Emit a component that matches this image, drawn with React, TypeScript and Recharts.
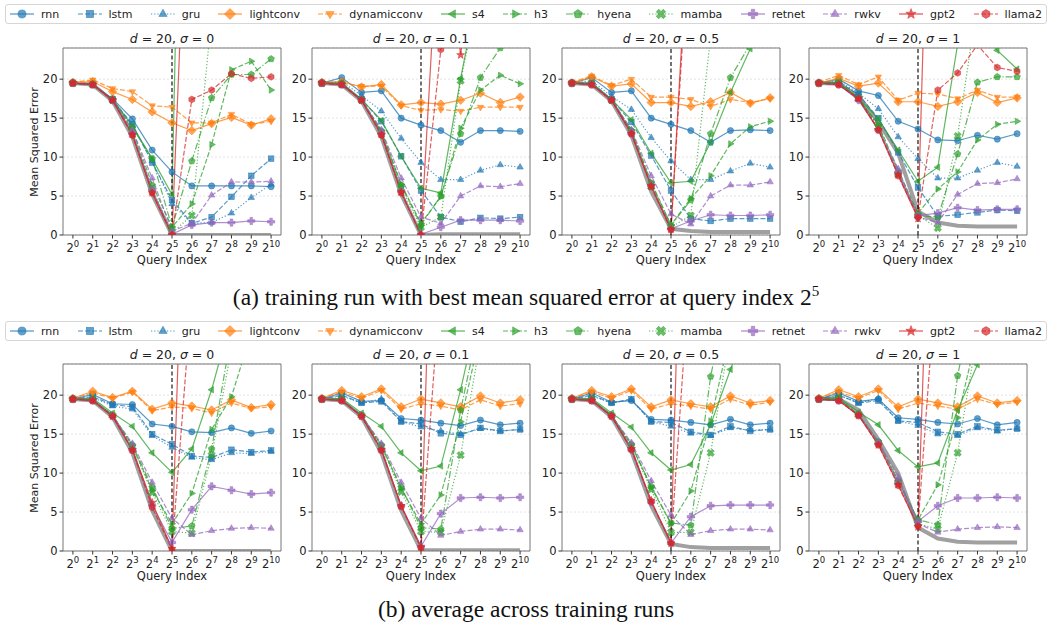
import React from 'react'
import { LineChart, Line, XAxis, YAxis, CartesianGrid, ReferenceLine, ReferenceArea } from 'recharts'

// query index exponents (2^0 .. 2^10)
const queryExponents = [0, 1, 2, 3, 4, 5, 6, 7, 8, 9, 10]
const sigmaLabels = ['0', '0.1', '0.5', '1']
const seriesNames = ['rnn', 'lstm', 'gru', 'lightconv', 'dynamicconv', 's4', 'h3', 'hyena', 'mamba', 'retnet', 'rwkv', 'gpt2', 'llama2']

// (a) best training run
const bestSigma0: Record<string, number[]> = {
  rnn: [19.5, 19.3, 17.5, 14.9, 10.9, 8.1, 6.3, 6.3, 6.3, 6.3, 6.2],
  lstm: [19.5, 19.3, 17.4, 14.2, 9.3, 4.5, 1.5, 2.3, 4.9, 7.6, 9.8],
  gru: [19.5, 19.3, 17.4, 14.0, 9.5, 4.0, 1.5, 1.6, 2.8, 4.8, 6.5],
  lightconv: [19.6, 19.7, 18.4, 17.4, 15.8, 14.4, 13.4, 14.3, 15.1, 14.1, 14.9],
  dynamicconv: [19.6, 19.9, 18.8, 18.4, 16.6, 16.4, 14.4, 14.4, 15.5, 14.2, 14.6],
  s4: [19.5, 19.3, 17.4, 14.0, 9.8, 5.2, 120, 110, 100, 100, 100],
  h3: [19.5, 19.3, 17.3, 13.5, 6.5, 1.0, 4.0, 11.6, 21.2, 22.3, 18.6],
  hyena: [19.5, 19.3, 17.4, 13.8, 9.8, 1.0, 9.5, 17.6, 20.6, 20.6, 22.6],
  mamba: [19.5, 19.3, 17.3, 13.2, 6.0, 0.3, 2.5, 28, 40, 40, 40],
  retnet: [19.5, 19.3, 17.3, 13.0, 5.8, 0.1, 1.3, 1.6, 1.6, 1.8, 1.7],
  rwkv: [19.5, 19.3, 17.4, 13.5, 7.3, 0.5, 1.5, 5.1, 6.8, 6.8, 6.9],
  gpt2: [19.5, 19.3, 17.3, 12.9, 5.4, 0.0, 62, 60, 60, 60, 60],
  llama2: [19.5, 19.3, 17.3, 12.8, 5.4, 0.0, 17.4, 18.6, 20.7, 20.1, 20.3],
}

const bestSigma01: Record<string, number[]> = {
  rnn: [19.5, 20.2, 18.3, 18.5, 15.0, 14.1, 13.4, 11.9, 13.4, 13.4, 13.3],
  lstm: [19.5, 19.3, 17.4, 14.6, 10.1, 5.7, 2.3, 1.7, 2.2, 2.1, 2.3],
  gru: [19.5, 19.7, 17.9, 15.9, 12.4, 9.3, 7.1, 7.1, 8.3, 9.0, 8.7],
  lightconv: [19.6, 19.7, 19.0, 19.3, 16.7, 17.0, 16.8, 17.3, 18.2, 17.0, 17.7],
  dynamicconv: [19.6, 19.5, 19.1, 19.1, 16.6, 16.0, 16.1, 15.9, 16.4, 16.4, 16.4],
  s4: [19.5, 19.5, 17.4, 14.7, 10.1, 6.0, 5.4, 20.1, 33, 40, 40],
  h3: [19.5, 19.4, 17.3, 13.4, 6.5, 1.5, 4.9, 13.7, 18.6, 20.5, 19.4],
  hyena: [19.5, 19.4, 17.3, 13.3, 6.4, 1.3, 5.0, 13.0, 20.2, 24.0, 28],
  mamba: [19.5, 19.4, 17.3, 13.2, 6.0, 1.0, 2.3, 19.8, 32, 40, 40],
  retnet: [19.5, 19.3, 17.3, 13.0, 5.6, 0.1, 1.0, 1.9, 1.9, 1.9, 1.8],
  rwkv: [19.5, 19.3, 17.4, 13.5, 7.3, 2.3, 1.5, 5.0, 6.3, 6.2, 6.6],
  gpt2: [19.5, 19.3, 17.3, 12.9, 5.5, 0.0, 45, 23.1, 45, 45, 45],
  llama2: [19.5, 19.3, 17.3, 12.8, 5.4, 0.0, 23.8, 40, 40, 40, 40],
}

const bestSigma05: Record<string, number[]> = {
  rnn: [19.5, 20.2, 18.3, 18.5, 15.0, 14.2, 13.4, 11.9, 13.4, 13.5, 13.4],
  lstm: [19.5, 19.5, 17.4, 14.5, 10.2, 5.7, 2.1, 1.8, 2.1, 2.1, 2.1],
  gru: [19.5, 19.8, 17.8, 16.1, 12.5, 9.5, 7.1, 7.1, 8.2, 9.2, 8.7],
  lightconv: [19.5, 20.3, 19.1, 19.4, 17.0, 17.0, 16.5, 17.1, 18.3, 16.9, 17.6],
  dynamicconv: [19.6, 20.4, 19.2, 20.0, 17.7, 17.7, 17.4, 16.5, 17.4, 17.0, 17.5],
  s4: [19.5, 19.5, 17.4, 14.8, 10.5, 6.7, 6.9, 11.9, 18.3, 23.9, 28],
  h3: [19.5, 19.4, 17.3, 13.5, 6.8, 1.3, 4.7, 7.6, 11.7, 13.9, 14.6],
  hyena: [19.5, 19.4, 17.3, 13.4, 6.6, 1.2, 4.5, 13.0, 20.2, 24.5, 30],
  mamba: [19.5, 19.4, 17.3, 13.2, 6.2, 1.0, 2.5, 25.5, 40, 45, 50],
  retnet: [19.5, 19.3, 17.3, 13.0, 6.4, 0.8, 1.8, 2.6, 2.5, 2.5, 2.6],
  rwkv: [19.5, 19.3, 17.4, 13.5, 7.6, 2.7, 1.4, 5.0, 6.4, 6.4, 6.8],
  gpt2: [19.5, 19.3, 17.3, 13.0, 6.3, 0.7, 45, 45, 45, 45, 45],
  llama2: [19.5, 19.3, 17.3, 13.0, 6.2, 0.7, 42, 42, 42, 42, 42],
}

const bestSigma1: Record<string, number[]> = {
  rnn: [19.5, 20.0, 18.5, 17.9, 14.6, 13.6, 12.2, 12.1, 12.8, 12.3, 13.0],
  lstm: [19.5, 19.6, 18.0, 15.0, 10.6, 6.1, 2.4, 2.6, 2.9, 3.2, 3.1],
  gru: [19.5, 19.8, 18.2, 16.2, 12.6, 9.8, 7.3, 7.3, 8.3, 9.3, 8.8],
  lightconv: [19.5, 20.1, 19.1, 19.5, 17.1, 17.1, 16.5, 17.1, 18.3, 17.0, 17.6],
  dynamicconv: [19.6, 20.5, 19.3, 20.3, 17.3, 18.2, 18.1, 17.5, 18.6, 17.7, 17.7],
  s4: [19.5, 19.6, 17.6, 14.9, 10.9, 6.9, 8.7, 24.5, 27, 23.7, 21.3],
  h3: [19.5, 19.5, 17.5, 14.2, 8.3, 2.8, 5.9, 8.1, 12.2, 14.2, 14.6],
  hyena: [19.5, 19.5, 17.5, 14.0, 8.0, 2.5, 2.3, 10.4, 19.6, 20.3, 20.3],
  mamba: [19.5, 19.5, 17.5, 13.8, 7.8, 2.5, 0.9, 12.7, 30, 35, 35],
  retnet: [19.5, 19.3, 17.3, 13.5, 8.0, 2.5, 2.8, 3.5, 3.2, 3.3, 3.3],
  rwkv: [19.5, 19.3, 17.4, 13.6, 8.5, 2.3, 1.6, 5.2, 6.6, 6.7, 7.2],
  gpt2: [19.5, 19.3, 17.5, 13.5, 7.7, 2.1, 90, 90, 90, 90, 90],
  llama2: [19.5, 19.3, 17.5, 13.5, 7.6, 2.3, 18.6, 20.8, 24.4, 21.5, 21.0],
}

// (b) average across training runs
const avgSigma0: Record<string, number[]> = {
  rnn: [19.5, 20.1, 18.9, 18.8, 16.3, 16.0, 15.3, 15.2, 15.8, 15.1, 15.4],
  lstm: [19.5, 19.8, 18.8, 18.5, 15.0, 13.7, 12.2, 12.0, 13.0, 12.7, 12.9],
  gru: [19.5, 19.7, 18.6, 18.2, 14.8, 13.3, 12.0, 11.7, 12.6, 12.5, 12.8],
  lightconv: [19.6, 20.5, 19.7, 20.5, 18.2, 19.0, 18.6, 18.1, 19.4, 18.4, 18.8],
  dynamicconv: [19.6, 20.3, 19.6, 20.4, 18.0, 18.5, 18.3, 17.7, 19.0, 18.3, 18.5],
  s4: [19.5, 19.6, 17.7, 16.0, 12.6, 10.1, 13.1, 20.7, 30, 35, 35],
  h3: [19.5, 19.4, 17.4, 13.5, 7.8, 3.5, 7.4, 15.6, 19.8, 28, 30],
  hyena: [19.5, 19.4, 17.4, 13.6, 8.2, 2.9, 3.2, 13.1, 28, 32, 32],
  mamba: [19.5, 19.4, 17.4, 13.4, 7.5, 2.5, 2.3, 12.3, 26, 30, 30],
  retnet: [19.5, 19.3, 17.3, 13.0, 5.9, 1.1, 5.3, 8.3, 7.8, 7.3, 7.5],
  rwkv: [19.5, 19.3, 17.4, 13.8, 8.8, 4.2, 2.1, 2.6, 2.9, 3.0, 2.9],
  gpt2: [19.5, 19.3, 17.3, 13.0, 6.2, 0.3, 80, 80, 80, 80, 80],
  llama2: [19.5, 19.3, 17.3, 12.9, 5.6, 0.2, 33, 40, 40, 40, 40],
}

const avgSigma01: Record<string, number[]> = {
  rnn: [19.5, 20.3, 19.2, 19.3, 17.0, 16.8, 16.4, 16.1, 16.8, 16.2, 16.4],
  lstm: [19.5, 20.0, 19.0, 19.2, 16.6, 16.3, 15.1, 14.9, 15.8, 15.4, 15.6],
  gru: [19.5, 19.9, 19.0, 19.5, 16.6, 15.9, 15.4, 15.0, 15.7, 15.4, 15.6],
  lightconv: [19.6, 20.6, 19.8, 20.8, 18.5, 19.5, 19.0, 18.5, 19.9, 19.0, 19.4],
  dynamicconv: [19.6, 20.4, 19.6, 20.6, 18.2, 18.9, 18.6, 18.1, 19.4, 18.6, 18.9],
  s4: [19.5, 19.6, 17.7, 16.0, 12.6, 10.3, 10.9, 20.7, 32, 35, 35],
  h3: [19.5, 19.4, 17.4, 13.5, 8.0, 3.5, 7.2, 16.6, 28, 32, 32],
  hyena: [19.5, 19.4, 17.4, 13.6, 8.2, 3.0, 2.8, 18.1, 30, 32, 32],
  mamba: [19.5, 19.4, 17.4, 13.4, 7.6, 2.5, 2.4, 12.3, 27, 30, 30],
  retnet: [19.5, 19.3, 17.3, 13.0, 5.8, 0.6, 4.8, 6.8, 6.9, 6.8, 6.9],
  rwkv: [19.5, 19.3, 17.4, 13.8, 8.8, 4.2, 2.0, 2.5, 2.8, 2.8, 2.7],
  gpt2: [19.5, 19.3, 17.3, 13.0, 5.8, 0.5, 85, 85, 85, 85, 85],
  llama2: [19.5, 19.3, 17.3, 12.9, 5.7, 0.4, 35, 40, 40, 40, 40],
}

const avgSigma05: Record<string, number[]> = {
  rnn: [19.5, 20.3, 19.1, 19.3, 16.9, 16.8, 16.5, 16.2, 16.9, 16.2, 16.4],
  lstm: [19.5, 20.0, 19.0, 19.5, 16.6, 16.5, 15.3, 14.9, 16.0, 15.4, 15.6],
  gru: [19.5, 19.9, 19.0, 19.4, 16.6, 16.0, 15.1, 14.8, 15.8, 15.5, 15.6],
  lightconv: [19.6, 20.6, 19.8, 20.8, 18.5, 19.4, 18.9, 18.5, 19.9, 19.0, 19.3],
  dynamicconv: [19.6, 20.4, 19.6, 20.6, 18.2, 18.9, 18.6, 18.2, 19.5, 18.7, 19.1],
  s4: [19.5, 19.6, 17.7, 15.9, 12.6, 10.4, 11.1, 16.2, 23.3, 30, 32],
  h3: [19.5, 19.4, 17.4, 13.6, 8.2, 3.5, 7.7, 16.7, 28, 30, 30],
  hyena: [19.5, 19.4, 17.4, 13.7, 8.3, 3.6, 3.3, 22.4, 35, 35, 35],
  mamba: [19.5, 19.4, 17.4, 13.5, 7.9, 2.4, 2.4, 12.6, 28, 30, 30],
  retnet: [19.5, 19.3, 17.3, 13.0, 6.3, 1.0, 4.4, 5.8, 5.9, 5.9, 5.9],
  rwkv: [19.5, 19.3, 17.4, 13.9, 9.0, 4.6, 2.1, 2.6, 2.8, 2.8, 2.7],
  gpt2: [19.5, 19.3, 17.3, 13.1, 6.5, 1.0, 90, 90, 90, 90, 90],
  llama2: [19.5, 19.3, 17.3, 13.0, 6.3, 1.0, 38, 40, 40, 40, 40],
}

const avgSigma1: Record<string, number[]> = {
  rnn: [19.5, 20.3, 19.2, 19.5, 17.1, 16.9, 16.5, 16.3, 17.0, 16.2, 16.5],
  lstm: [19.5, 20.0, 19.0, 19.3, 16.7, 16.5, 15.3, 15.0, 16.0, 15.5, 15.7],
  gru: [19.5, 20.0, 19.0, 19.6, 16.7, 16.1, 15.0, 14.8, 15.8, 15.4, 15.7],
  lightconv: [19.6, 20.7, 19.8, 20.8, 18.5, 19.5, 19.0, 18.5, 19.9, 19.0, 19.3],
  dynamicconv: [19.6, 20.4, 19.6, 20.6, 18.2, 19.0, 18.6, 18.2, 19.5, 18.8, 19.1],
  s4: [19.5, 19.7, 17.8, 16.2, 12.9, 10.8, 11.3, 18.1, 23.9, 30, 32],
  h3: [19.5, 19.5, 17.5, 14.0, 9.0, 4.0, 8.5, 17.1, 28, 30, 30],
  hyena: [19.5, 19.5, 17.5, 14.0, 9.0, 4.0, 3.4, 22.5, 35, 35, 35],
  mamba: [19.5, 19.5, 17.5, 13.9, 8.8, 3.5, 2.8, 12.6, 28, 30, 30],
  retnet: [19.5, 19.3, 17.4, 13.8, 8.8, 3.8, 5.8, 6.8, 6.8, 6.9, 6.8],
  rwkv: [19.5, 19.3, 17.5, 14.0, 9.5, 3.5, 2.4, 2.8, 3.0, 3.1, 3.0],
  gpt2: [19.5, 19.3, 17.4, 13.6, 8.5, 3.1, 80, 80, 80, 80, 80],
  llama2: [19.5, 19.3, 17.4, 13.6, 8.4, 3.2, 38, 40, 40, 40, 40],
}

// thick grey reference curve in each panel
const bestBaselines = [
  [19.5, 19.3, 17.2, 12.6, 5.2, 0.0, 0.0, 0.0, 0.0, 0.0, 0.0],
  [19.5, 19.3, 17.2, 12.6, 5.2, 0.0, 0.1, 0.1, 0.1, 0.1, 0.1],
  [19.5, 19.3, 17.2, 12.8, 5.6, 0.8, 0.5, 0.4, 0.4, 0.4, 0.4],
  [19.5, 19.4, 17.8, 14.5, 10.5, 3.0, 1.6, 1.2, 1.1, 1.1, 1.1],
]
const avgBaselines = [
  [19.5, 19.3, 17.2, 12.6, 5.2, 0.0, 0.0, 0.0, 0.0, 0.0, 0.0],
  [19.5, 19.3, 17.2, 12.6, 5.2, 0.1, 0.1, 0.1, 0.1, 0.1, 0.1],
  [19.5, 19.3, 17.2, 12.8, 5.8, 0.9, 0.5, 0.4, 0.4, 0.4, 0.4],
  [19.5, 19.5, 18.1, 14.3, 10.0, 3.0, 1.6, 1.2, 1.1, 1.1, 1.1],
]

const bestTables = [bestSigma0, bestSigma01, bestSigma05, bestSigma1]
const avgTables = [avgSigma0, avgSigma01, avgSigma05, avgSigma1]

const FONT = "'DejaVu Sans', Verdana, sans-serif"
const SERIF = "'Liberation Serif', 'Times New Roman', serif"

type Shape = 'o' | 's' | '^' | 'D' | 'v' | '<' | '>' | 'p' | 'X' | 'P' | '*' | 'h'

const seriesStyle: Record<string, { color: string; dash?: string; shape: Shape }> = {
  rnn: { color: '#1f77b4', shape: 'o' },
  lstm: { color: '#1f77b4', dash: '5 2', shape: 's' },
  gru: { color: '#1f77b4', dash: '1.2 2', shape: '^' },
  lightconv: { color: '#ff7f0e', shape: 'D' },
  dynamicconv: { color: '#ff7f0e', dash: '5 2', shape: 'v' },
  s4: { color: '#2ca02c', shape: '<' },
  h3: { color: '#2ca02c', dash: '5 2', shape: '>' },
  hyena: { color: '#2ca02c', dash: '7 2 1.2 2', shape: 'p' },
  mamba: { color: '#2ca02c', dash: '1.2 2', shape: 'X' },
  retnet: { color: '#9467bd', shape: 'P' },
  rwkv: { color: '#9467bd', dash: '5 2', shape: '^' },
  gpt2: { color: '#d62728', shape: '*' },
  llama2: { color: '#d62728', dash: '5 2', shape: 'h' },
}

function regularPoints(n: number, r: number, rotDeg: number, cx: number, cy: number) {
  const pts: string[] = []
  for (let i = 0; i < n; i++) {
    const a = ((rotDeg + (360 / n) * i) * Math.PI) / 180
    pts.push(`${cx + r * Math.cos(a)},${cy + r * Math.sin(a)}`)
  }
  return pts.join(' ')
}

function crossPoints(r: number, rotDeg: number, cx: number, cy: number) {
  const w = r * 0.36
  const base = [
    [-w, -r], [w, -r], [w, -w], [r, -w], [r, w], [w, w],
    [w, r], [-w, r], [-w, w], [-r, w], [-r, -w], [-w, -w],
  ]
  const a = (rotDeg * Math.PI) / 180
  return base
    .map(([x, y]) => `${cx + x * Math.cos(a) - y * Math.sin(a)},${cy + x * Math.sin(a) + y * Math.cos(a)}`)
    .join(' ')
}

function starPoints(r: number, cx: number, cy: number) {
  const pts: string[] = []
  for (let i = 0; i < 10; i++) {
    const rr = i % 2 === 0 ? r : r * 0.42
    const a = ((-90 + 36 * i) * Math.PI) / 180
    pts.push(`${cx + rr * Math.cos(a)},${cy + rr * Math.sin(a)}`)
  }
  return pts.join(' ')
}

function Marker({ shape, cx, cy, color, scale = 1 }: { shape: Shape; cx: number; cy: number; color: string; scale?: number }) {
  if (cx == null || cy == null || isNaN(cx) || isNaN(cy)) return null
  const k = scale
  const paint = { fill: color, fillOpacity: 0.7, stroke: color, strokeOpacity: 0.8, strokeWidth: 0.6 }
  switch (shape) {
    case 'o':
      return <circle cx={cx} cy={cy} r={3.1 * k} {...paint} />
    case 's':
      return <rect x={cx - 2.8 * k} y={cy - 2.8 * k} width={5.6 * k} height={5.6 * k} {...paint} />
    case '^':
      return <polygon points={regularPoints(3, 3.7 * k, -90, cx, cy)} {...paint} />
    case 'v':
      return <polygon points={regularPoints(3, 3.7 * k, 90, cx, cy)} {...paint} />
    case '<':
      return <polygon points={regularPoints(3, 3.7 * k, 180, cx, cy)} {...paint} />
    case '>':
      return <polygon points={regularPoints(3, 3.7 * k, 0, cx, cy)} {...paint} />
    case 'D':
      return <polygon points={regularPoints(4, 4.3 * k, -90, cx, cy)} {...paint} />
    case 'p':
      return <polygon points={regularPoints(5, 3.5 * k, -90, cx, cy)} {...paint} />
    case 'h':
      return <polygon points={regularPoints(6, 3.4 * k, -90, cx, cy)} {...paint} />
    case 'X':
      return <polygon points={crossPoints(3.8 * k, 45, cx, cy)} {...paint} />
    case 'P':
      return <polygon points={crossPoints(3.6 * k, 0, cx, cy)} {...paint} />
    case '*':
      return <polygon points={starPoints(4.2 * k, cx, cy)} {...paint} />
  }
  return null
}

function PowerTick(props: any) {
  const { x, y, payload } = props
  return (
    <text x={x} y={y + 11} textAnchor="middle" fontSize={11.5} fontFamily={FONT} fill="#222">
      <tspan>2</tspan>
      <tspan dy={-5} fontSize={8.5}>{payload.value}</tspan>
    </text>
  )
}

const PLOT_W = 218
const PLOT_H = 187
const Y_AXIS_W = 40
const PAD = 4

function Panel({ table, baseline, sigma, left, top, showYLabel }: {
  table: Record<string, number[]>
  baseline: number[]
  sigma: string
  left: number
  top: number
  showYLabel: boolean
}) {
  const rows = queryExponents.map((e, i) => {
    const row: Record<string, number> = { x: e, base: baseline[i] }
    seriesNames.forEach((n) => (row[n] = table[n][i]))
    return row
  })

  return (
    <>
      <div
        style={{
          position: 'absolute', left, top: top - 16, width: PLOT_W, textAlign: 'center',
          fontSize: 12.5, fontFamily: FONT, color: '#222', lineHeight: '14px',
        }}
      >
        <i>d</i> = 20, <i>σ</i> = {sigma}
      </div>
      {showYLabel && (
        <div
          style={{
            position: 'absolute', left: left - 28 - 60, top: top + PLOT_H / 2 - 7, width: 120,
            textAlign: 'center', fontSize: 11, fontFamily: FONT, color: '#222', lineHeight: '14px',
            transform: 'rotate(-90deg)',
          }}
        >
          Mean Squared Error
        </div>
      )}
      <div
        style={{
          position: 'absolute', left, top: top + PLOT_H + 18, width: PLOT_W, textAlign: 'center',
          fontSize: 11.5, fontFamily: FONT, color: '#222', lineHeight: '14px',
        }}
      >
        Query Index
      </div>
      <div style={{ position: 'absolute', left: left - Y_AXIS_W, top: top - PAD }}>
        <LineChart
          width={Y_AXIS_W + PLOT_W + PAD}
          height={PAD + PLOT_H + 30}
          data={rows}
          margin={{ top: PAD, right: PAD, left: 0, bottom: 0 }}
        >
          <CartesianGrid vertical={false} stroke="#d8d8d8" strokeDasharray="2 2" strokeWidth={0.7} />
          <XAxis
            type="number"
            dataKey="x"
            domain={[-0.5, 10.5]}
            ticks={queryExponents}
            interval={0}
            axisLine={false}
            tickLine={{ stroke: '#333' }}
            tickSize={3.5}
            height={30}
            tick={<PowerTick />}
          />
          <YAxis
            type="number"
            domain={[0, 24]}
            allowDataOverflow
            ticks={[0, 5, 10, 15, 20]}
            axisLine={false}
            tickLine={{ stroke: '#333' }}
            tickSize={3.5}
            width={Y_AXIS_W}
            tick={{ fontSize: 11.5, fill: '#222', fontFamily: FONT }}
          />
          <Line
            dataKey="base"
            stroke="#808080"
            strokeOpacity={0.75}
            strokeWidth={4}
            dot={false}
            activeDot={false}
            isAnimationActive={false}
          />
          {seriesNames.map((name) => {
            const st = seriesStyle[name]
            return (
              <Line
                key={name}
                dataKey={name}
                stroke={st.color}
                strokeOpacity={0.75}
                strokeWidth={1.2}
                strokeDasharray={st.dash}
                dot={(p: any) => (
                  <Marker key={`${name}-${p.index}`} shape={st.shape} cx={p.cx} cy={p.cy} color={st.color} />
                )}
                activeDot={false}
                isAnimationActive={false}
              />
            )
          })}
          <ReferenceLine x={5} stroke="#000" strokeWidth={1.1} strokeDasharray="4 2.5" />
          <ReferenceArea x1={-0.5} x2={10.5} y1={0} y2={24} fill="none" stroke="#777" strokeWidth={1} />
        </LineChart>
      </div>
    </>
  )
}

function LegendBox({ top }: { top: number }) {
  return (
    <div
      style={{
        position: 'absolute', left: 5, top, width: 1042, height: 20, boxSizing: 'border-box',
        border: '1px solid #d6d6d6', borderRadius: 3, display: 'flex', alignItems: 'center',
        justifyContent: 'space-between', padding: '0 4px', fontFamily: FONT, fontSize: 11, color: '#222',
      }}
    >
      {seriesNames.map((name) => {
        const st = seriesStyle[name]
        return (
          <div key={name} style={{ display: 'flex', alignItems: 'center' }}>
            <svg width={24} height={14} style={{ marginRight: 7 }}>
              <line x1={0} y1={7} x2={24} y2={7} stroke={st.color} strokeOpacity={0.8} strokeWidth={1.2} strokeDasharray={st.dash} />
              <Marker shape={st.shape} cx={12} cy={7} color={st.color} scale={1.3} />
            </svg>
            <span>{name}</span>
          </div>
        )
      })}
    </div>
  )
}

const plotLefts = [63, 312, 562, 809]

export default function App() {
  return (
    <div style={{ position: 'relative', width: 1052, height: 629, background: '#fff', overflow: 'hidden' }}>
      <style>{'body{margin:0}'}</style>
      <LegendBox top={4} />
      {bestTables.map((t, i) => (
        <Panel key={`a${i}`} table={t} baseline={bestBaselines[i]} sigma={sigmaLabels[i]} left={plotLefts[i]} top={48} showYLabel={i === 0} />
      ))}
      <div
        style={{
          position: 'absolute', left: 0, top: 283, width: 1052, textAlign: 'center',
          fontFamily: SERIF, fontSize: 23.5, color: '#111', lineHeight: '28px',
        }}
      >
        (a) training run with best mean squared error at query index 2<sup style={{ fontSize: 15, lineHeight: 0 }}>5</sup>
      </div>
      <LegendBox top={321} />
      {avgTables.map((t, i) => (
        <Panel key={`b${i}`} table={t} baseline={avgBaselines[i]} sigma={sigmaLabels[i]} left={plotLefts[i]} top={364} showYLabel={i === 0} />
      ))}
      <div
        style={{
          position: 'absolute', left: 0, top: 595, width: 1052, textAlign: 'center',
          fontFamily: SERIF, fontSize: 23.5, color: '#111', lineHeight: '28px',
        }}
      >
        (b) average across training runs
      </div>
    </div>
  )
}
